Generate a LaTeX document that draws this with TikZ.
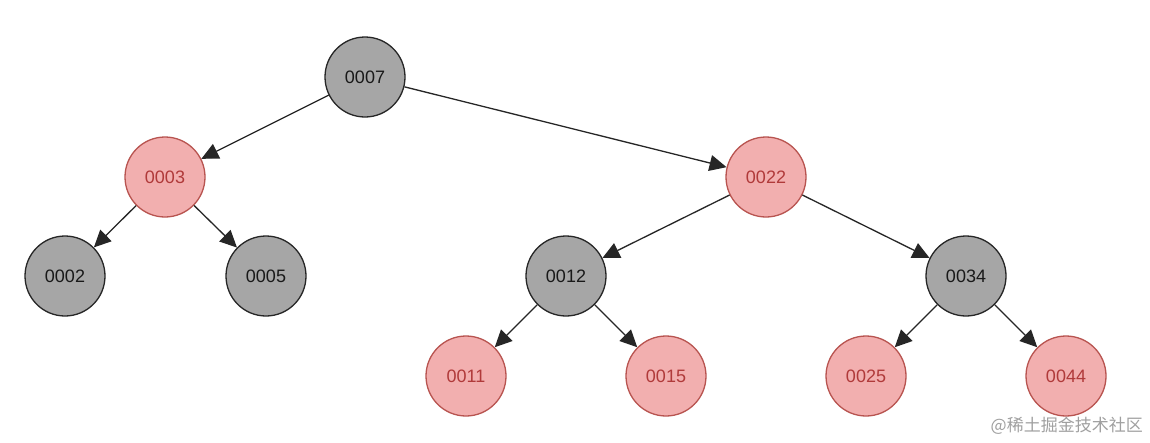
\documentclass[tikz,border=0pt]{standalone}
\usepackage{fontspec}
\setmainfont{Liberation Sans}
\newfontfamily\cjk{Noto Sans CJK SC}
\usetikzlibrary{arrows.meta}
\definecolor{grayfill}{HTML}{A6A6A6}
\definecolor{pinkfill}{HTML}{F2AFAF}
\definecolor{redline}{HTML}{B85450}
\definecolor{rtext}{HTML}{B03A3A}
\definecolor{wm}{HTML}{A0A0A0}
\begin{document}
\begin{tikzpicture}[x=1pt,y=-1pt,
  blk/.style={circle,draw=black!85,line width=1.3pt,fill=grayfill,minimum size=80pt,inner sep=0pt,font=\fontsize{18}{21}\selectfont,text=black!90},
  rd/.style={circle,draw=redline,line width=1.3pt,fill=pinkfill,minimum size=80pt,inner sep=0pt,font=\fontsize{18}{21}\selectfont,text=rtext},
  edge/.style={draw=black!85,line width=1.3pt,-{Triangle[length=17pt,width=16pt]}}]
\useasboundingbox[fill=white] (0,0) rectangle (1150,442);
\node[blk] (n7) at (365,77) {0007};
\node[rd] (n3) at (165,177) {0003};
\node[rd] (n22) at (766,177) {0022};
\node[blk] (n2) at (65,276) {0002};
\node[blk] (n5) at (266,276) {0005};
\node[blk] (n12) at (566,276) {0012};
\node[blk] (n34) at (966,276) {0034};
\node[rd] (n11) at (466,376) {0011};
\node[rd] (n15) at (666,376) {0015};
\node[rd] (n25) at (866,376) {0025};
\node[rd] (n44) at (1066,376) {0044};
\draw[edge] (n7) -- (n3);
\draw[edge] (n7) -- (n22);
\draw[edge] (n3) -- (n2);
\draw[edge] (n3) -- (n5);
\draw[edge] (n22) -- (n12);
\draw[edge] (n22) -- (n34);
\draw[edge] (n12) -- (n11);
\draw[edge] (n12) -- (n15);
\draw[edge] (n34) -- (n25);
\draw[edge] (n34) -- (n44);
\node[anchor=east,text=wm,font=\cjk\fontsize{17}{20}\selectfont,inner sep=0pt] (wmk) at (1143,426) {@稀土掘金技术社区};
\end{tikzpicture}
\end{document}
